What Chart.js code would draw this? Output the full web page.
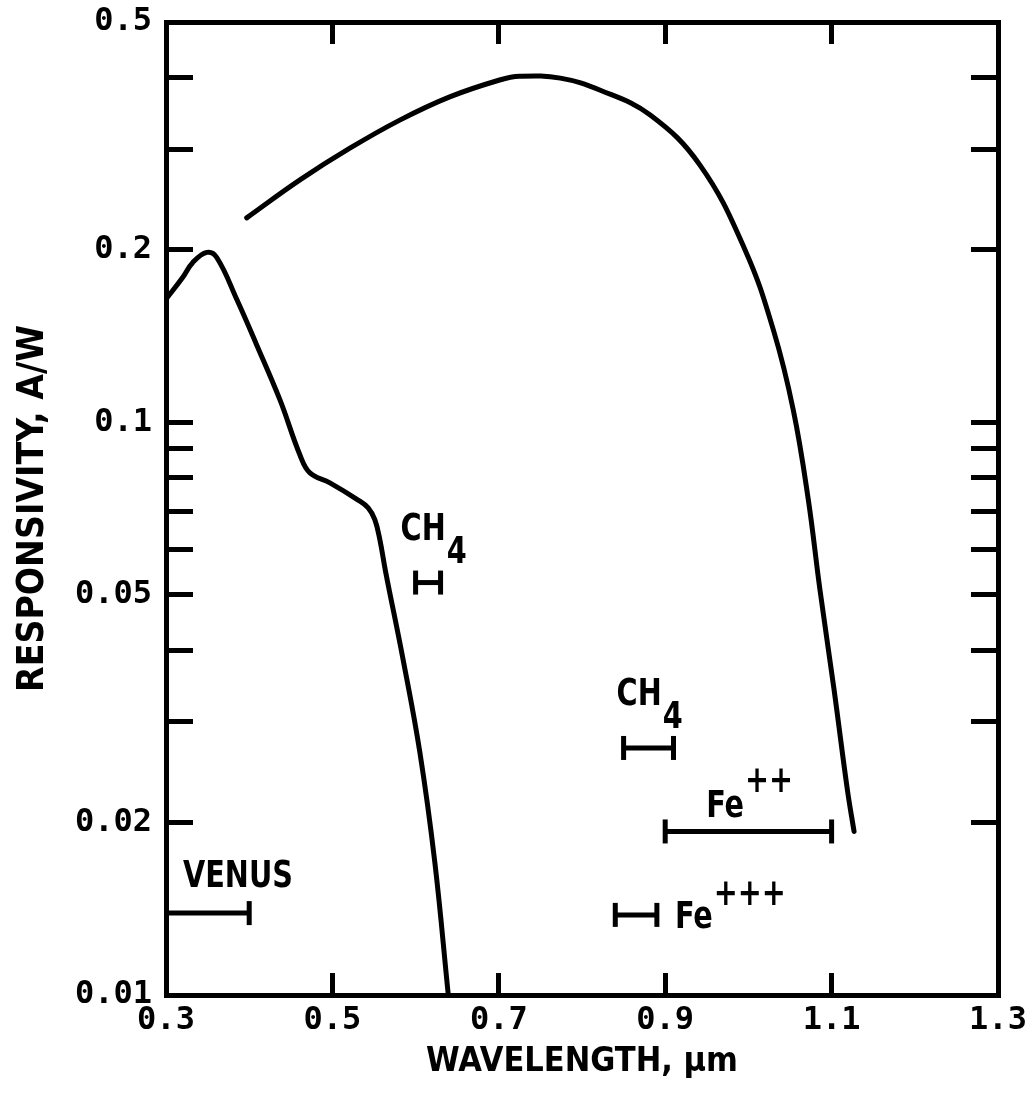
<!DOCTYPE html>
<html>
<head>
<meta charset="utf-8">
<title>Responsivity vs wavelength</title>
<script src="https://cdn.jsdelivr.net/npm/chart.js@4.4.1/dist/chart.umd.min.js"></script>
<style>
  html, body { margin: 0; padding: 0; background: #fff; }
  #wrap { width: 1029px; height: 1100px; position: relative; }
</style>
</head>
<body>
<div id="wrap"><canvas id="chart"></canvas></div>
<script>
// ── data ──
const xTicks    = [0.3, 0.5, 0.7, 0.9, 1.1, 1.3];
const yTicks    = [0.01, 0.02, 0.03, 0.04, 0.05, 0.06, 0.07, 0.08, 0.09, 0.1, 0.2, 0.3, 0.4, 0.5];
const yLabelled = [0.01, 0.02, 0.05, 0.1, 0.2, 0.5];

// lower responsivity curve
const lowWave = [0.300, 0.320, 0.332, 0.349, 0.361, 0.385, 0.409, 0.437, 0.461, 0.473, 0.497, 0.530, 0.543, 0.551, 0.557, 0.564, 0.585, 0.605, 0.623, 0.639];
const lowResp = [0.164, 0.179, 0.190, 0.198, 0.194, 0.164, 0.1365, 0.1094, 0.0877, 0.0816, 0.0784, 0.0733, 0.0709, 0.0676, 0.0624, 0.0548, 0.0385, 0.0266, 0.0171, 0.0101];

// upper responsivity curve
const highWave = [0.397, 0.461, 0.521, 0.581, 0.641, 0.701, 0.725, 0.774, 0.822, 0.882, 0.942, 0.996, 1.030, 1.054, 1.072, 1.086, 1.103, 1.119, 1.127];
const highResp = [0.2275, 0.265, 0.301, 0.337, 0.370, 0.396, 0.402, 0.399, 0.380, 0.344, 0.281, 0.200, 0.145, 0.105, 0.0733, 0.0510, 0.0341, 0.0228, 0.0193];

// absorption bands
const bandNames = ["VENUS", "CH4", "CH4", "Fe++", "Fe+++"];
const bandStart = [0.30, 0.60, 0.85, 0.90, 0.84];
const bandEnd   = [0.40, 0.63, 0.91, 1.10, 0.89];
const bandLevel = [0.0139, 0.0525, 0.027, 0.0193, 0.0138];

// ── label placement (pixels relative to each band) ──
const bandLabelLayout = [
  [{ text: "VENUS", dx: 17, dy: -26 }],
  [{ text: "CH", dx: -15, dy: -43 }, { text: "4", dy: -20 }],
  [{ text: "CH", dx: -7,  dy: -43 }, { text: "4", dy: -20 }],
  [{ text: "Fe", dx: 41,  dy: -14 }, { text: "++", dy: -39 }],
  [{ text: "Fe", fromEnd: true, dx: 18, dy: 13 }, { text: "+++", dy: -10 }]
];

const INK = "#000";
const narrow = "'DejaVu Sans Condensed', 'Liberation Sans', sans-serif";
const tickFont = { family: "'DejaVu Sans Mono', monospace", size: 32, weight: "bold" };
const SQUEEZE = 0.84;   // the original lettering is tall and narrow

function fixTicks(values) {
  return scale => { scale.ticks = values.map(v => ({ value: v })); };
}

// fixed box size, and no extra room reserved for edge labels
function fixBox(size) {
  return scale => {
    if (scale.isHorizontal()) scale.height = size; else scale.width = size;
    scale.paddingTop = scale.paddingBottom = scale.paddingLeft = scale.paddingRight = 0;
  };
}

function toPoints(xs, ys) {
  return xs.map((x, i) => ({ x, y: ys[i] }));
}

const bandLabels = {
  id: "bandLabels",
  afterDatasetsDraw(chart) {
    const ctx = chart.ctx;
    const xs = chart.scales.x, ys = chart.scales.y;
    ctx.save();
    ctx.fillStyle = INK;
    ctx.font = "bold 38px " + narrow;
    ctx.textBaseline = "alphabetic";
    ctx.textAlign = "left";
    bandNames.forEach((name, i) => {
      const x0 = xs.getPixelForValue(bandStart[i]);
      const x1 = xs.getPixelForValue(bandEnd[i]);
      const y  = ys.getPixelForValue(bandLevel[i]);
      let cursor = null;
      bandLabelLayout[i].forEach(part => {
        if (cursor === null) cursor = (part.fromEnd ? x1 : x0) + part.dx;
        ctx.save();
        ctx.translate(cursor, y + part.dy);
        ctx.scale(SQUEEZE, 1);
        ctx.fillText(part.text, 0, 0);
        ctx.restore();
        cursor += ctx.measureText(part.text).width * SQUEEZE + 1;
      });
    });
    ctx.restore();
  }
};

const gridInside = (len) => ({
  drawOnChartArea: false, drawTicks: true, tickLength: len,
  tickWidth: 5, tickColor: INK, lineWidth: 5, color: INK
});
const border = { display: true, width: 5, color: INK };

const curveStyle = {
  borderColor: INK, borderWidth: 5, pointRadius: 0, fill: false,
  tension: 0.4, borderCapStyle: "round", borderJoinStyle: "round"
};

const datasets = [
  { label: "lower", data: toPoints(lowWave, lowResp), ...curveStyle },
  { label: "upper", data: toPoints(highWave, highResp), ...curveStyle }
];
bandNames.forEach((name, i) => {
  datasets.push({
    label: name,
    data: [{ x: bandStart[i], y: bandLevel[i] }, { x: bandEnd[i], y: bandLevel[i] }],
    borderColor: INK, borderWidth: 5, tension: 0, fill: false,
    pointStyle: "line", pointRotation: 90, pointRadius: 12,
    pointBorderColor: INK, pointBorderWidth: 5, pointBackgroundColor: INK
  });
});

new Chart(document.getElementById("chart"), {
  type: "line",
  data: { datasets },
  options: {
    responsive: true,
    maintainAspectRatio: false,
    animation: false,
    layout: { padding: { left: 0, top: 22, right: 31, bottom: 0 } },
    plugins: { legend: { display: false }, tooltip: { enabled: false } },
    scales: {
      x: {
        type: "linear", position: "bottom", min: 0.3, max: 1.3,
        afterBuildTicks: fixTicks(xTicks),
        afterFit: fixBox(105),
        border, grid: gridInside(-22),
        ticks: { font: tickFont, color: INK, padding: 28, maxRotation: 0, autoSkip: false,
                 callback: v => Number(v).toFixed(1) },
        title: { display: true, text: "WAVELENGTH, μm", color: INK,
                 font: { family: narrow, size: 34, weight: "bold" }, padding: { top: 0, bottom: 17 } }
      },
      xTop: {
        type: "linear", position: "top", min: 0.3, max: 1.3,
        afterBuildTicks: fixTicks(xTicks),
        afterFit: fixBox(0),
        border, grid: gridInside(-22),
        ticks: { display: false }
      },
      y: {
        type: "logarithmic", position: "left", min: 0.01, max: 0.5, bounds: "data",
        afterBuildTicks: fixTicks(yTicks),
        afterFit: fixBox(166),
        border, grid: gridInside(-27),
        ticks: { font: tickFont, color: INK, padding: 41, autoSkip: false,
                 callback: v => yLabelled.some(l => Math.abs(l - v) < 1e-9) ? String(v) : "" },
        title: { display: true, text: "RESPONSIVITY, A/W", color: INK,
                 font: { family: narrow, size: 37, weight: "bold" }, padding: { top: 11, bottom: 0 } }
      },
      yRight: {
        type: "logarithmic", position: "right", min: 0.01, max: 0.5, bounds: "data",
        afterBuildTicks: fixTicks(yTicks),
        afterFit: fixBox(0),
        border, grid: gridInside(-27),
        ticks: { display: false }
      }
    }
  },
  plugins: [bandLabels]
});
</script>
</body>
</html>
